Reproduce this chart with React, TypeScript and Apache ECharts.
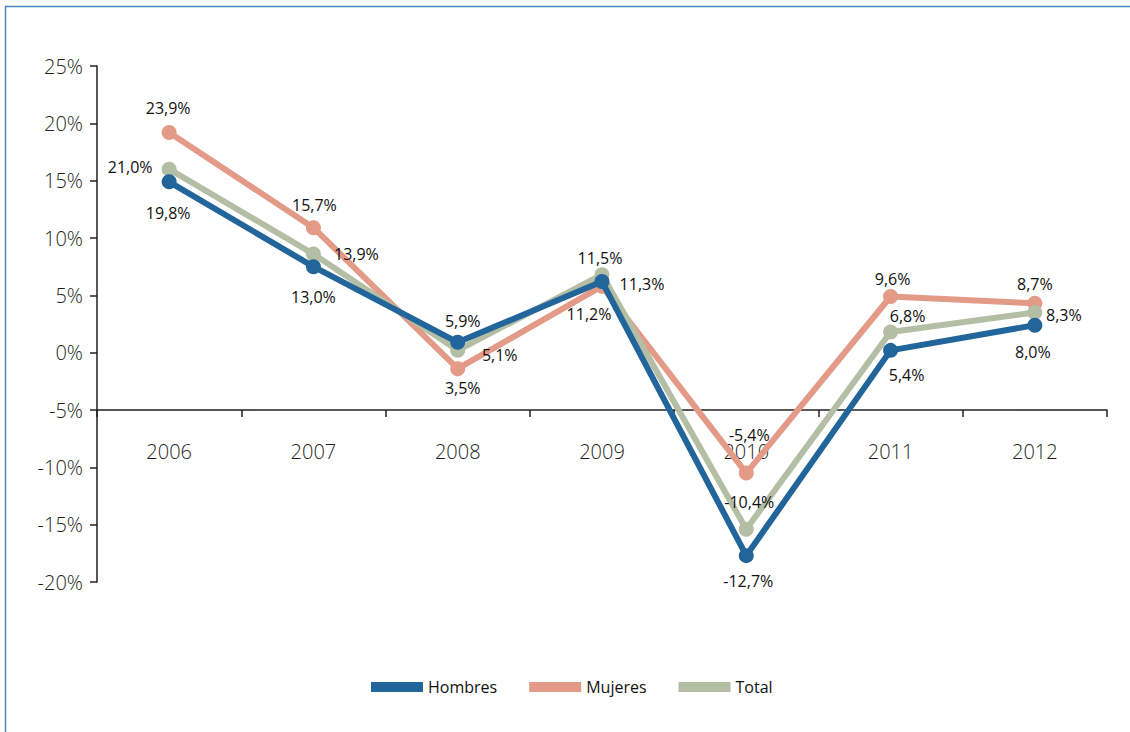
import React, { useEffect, useRef } from "react";
import * as echarts from "echarts";

const years = ["2006", "2007", "2008", "2009", "2010", "2011", "2012"];
const hombres = [14.9, 7.5, 0.9, 6.2, -17.7, 0.2, 2.4];
const mujeres = [19.2, 10.9, -1.4, 5.8, -10.5, 4.9, 4.3];
const total = [16.0, 8.6, 0.2, 6.8, -15.4, 1.8, 3.5];
const hombresLabels = ["19,8%", "13,0%", "5,9%", "11,2%", "-12,7%", "5,4%", "8,0%"];
const mujeresLabels = ["23,9%", "15,7%", "3,5%", "11,3%", "-5,4%", "9,6%", "8,7%"];
const totalLabels = ["21,0%", "13,9%", "5,1%", "11,5%", "-10,4%", "6,8%", "8,3%"];

// layout: label offsets (px) relative to each point
const hombresOff = [[-1, 31], [0, 30], [5, -21], [-13, 32], [2, 25], [16, 25], [-2, 27]];
const mujeresOff = [[-1, -25], [1, -23], [5, 19], [40, -2], [3, -38], [2, -17], [0, -19]];
const totalOff = [[-39, -2], [43, 0], [42, 5], [-2, -17], [3, -27], [17, -16], [29, 2]];

const FONT = "'Open Sans', 'Noto Sans', sans-serif";
const TXT = "#231f20";

function makeSeries(name: string, values: number[], labels: string[], offs: number[][], color: string, z: number) {
  return {
    name,
    type: "line",
    z,
    data: values.map((v, i) => ({
      value: v,
      label: {
        show: true,
        position: "inside",
        offset: offs[i],
        formatter: () => labels[i],
        color: "#111111",
        fontSize: 16,
        fontFamily: FONT,
      },
    })),
    symbol: "circle",
    symbolSize: 15,
    showAllSymbol: true,
    lineStyle: { width: 6, color },
    itemStyle: { color },
    emphasis: { disabled: true },
  };
}

export default function App() {
  const ref = useRef<HTMLDivElement>(null);
  useEffect(() => {
    if (!ref.current) return;
    const chart = echarts.init(ref.current, null, { renderer: "svg" });
    chart.setOption({
      animation: false,
      backgroundColor: "#ffffff",
      textStyle: { fontFamily: FONT },
      grid: { left: 97, right: 23, top: 66, bottom: 150, containLabel: false },
      graphic: [
        { type: "line", shape: { x1: 5, y1: 6.5, x2: 1130, y2: 6.5 }, style: { stroke: "#4a86c3", lineWidth: 1.5 } },
        { type: "line", shape: { x1: 5.5, y1: 6, x2: 5.5, y2: 732 }, style: { stroke: "#4a86c3", lineWidth: 1.5 } },
      ],
      legend: {
        left: 366,
        top: 674,
        itemWidth: 52,
        itemHeight: 10,
        itemGap: 32,
        icon: "rect",
        data: ["Hombres", "Mujeres", "Total"],
        textStyle: { fontSize: 16, color: "#111111", fontFamily: FONT },
      },
      xAxis: {
        type: "category",
        data: years,
        position: "bottom",
        offset: -172,
        boundaryGap: true,
        axisLine: { onZero: false, lineStyle: { color: TXT, width: 1.5 } },
        axisTick: { show: true, length: 7, lineStyle: { color: TXT, width: 1.5 } },
        axisLabel: { margin: 31, fontSize: 20, fontWeight: 300, color: TXT, fontFamily: FONT },
        splitLine: { show: false },
      },
      yAxis: {
        type: "value",
        min: -20,
        max: 25,
        interval: 5,
        axisLine: { show: true, lineStyle: { color: TXT, width: 1.5 } },
        axisTick: { show: true, length: 7, lineStyle: { color: TXT, width: 1.5 } },
        axisLabel: { margin: 14, fontSize: 20, fontWeight: 300, color: TXT, fontFamily: FONT, formatter: (v: number) => v + "%" },
        splitLine: { show: false },
      },
      series: [
        makeSeries("Hombres", hombres, hombresLabels, hombresOff, "#22659a", 4),
        makeSeries("Mujeres", mujeres, mujeresLabels, mujeresOff, "#e39a87", 2),
        makeSeries("Total", total, totalLabels, totalOff, "#b3bea5", 3),
      ],
    });
    return () => chart.dispose();
  }, []);
  return (
    <div
      ref={ref}
      style={{ position: "fixed", left: 0, top: 0, width: 1130, height: 732, background: "#fff" }}
    />
  );
}
